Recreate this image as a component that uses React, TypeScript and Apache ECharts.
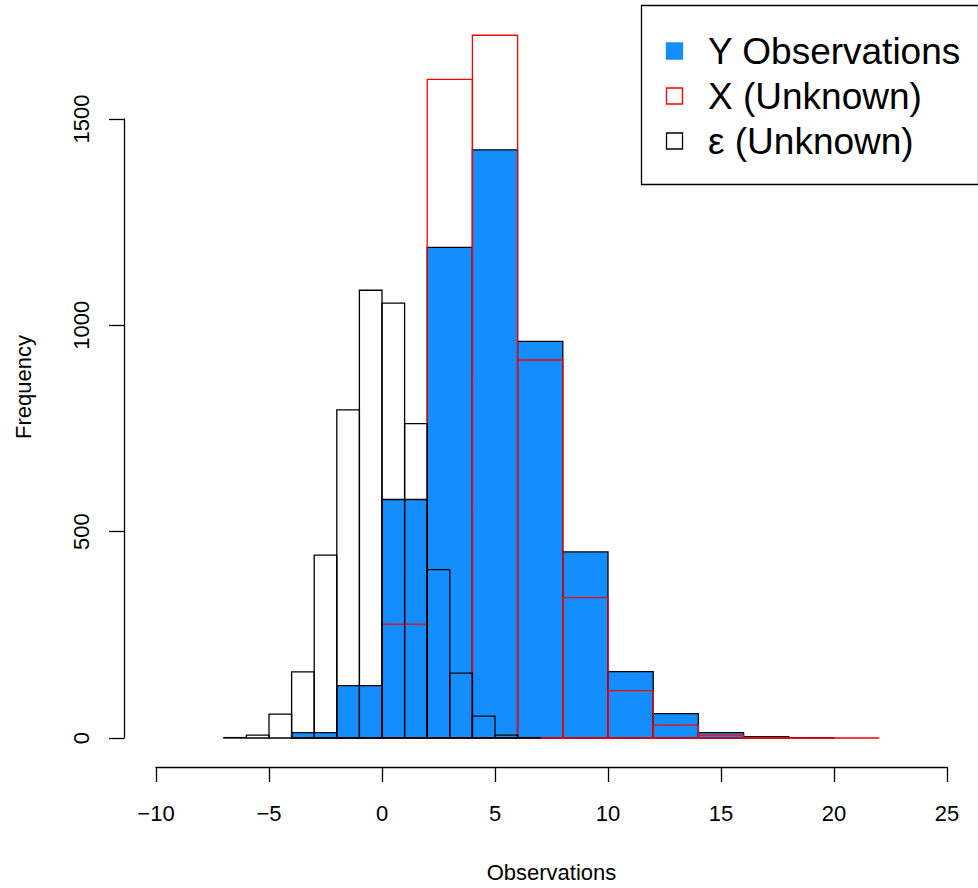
import React, { useEffect, useRef } from "react";
import * as echarts from "echarts";

// Histogram bin edges and counts
const yBreaks = [-4, -2, 0, 2, 4, 6, 8, 10, 12, 14, 16, 18, 20];
const yCounts = [13, 127, 578, 1189, 1425, 961, 451, 161, 59, 13, 3, 1];

const xBreaks = [0, 2, 4, 6, 8, 10, 12, 14, 16, 18, 20, 22];
const xCounts = [276, 1596, 1703, 916, 340, 115, 31, 7, 1, 0, 0];

const epsBreaks = [-7, -6, -5, -4, -3, -2, -1, 0, 1, 2, 3, 4, 5, 6, 7];
const epsCounts = [1, 7, 58, 160, 443, 795, 1085, 1054, 762, 408, 157, 53, 7, 1];

const xTicks = { min: -10, max: 25, interval: 5 };
const yTicks = { min: 0, max: 1500, interval: 500 };

const legendLabels = ["Y Observations", "X (Unknown)", "ε (Unknown)"];
const BLUE = "#148eff";
const RED = "#ff0000";
const FONT = "'Liberation Sans', Arial, Helvetica, sans-serif";

function toBins(breaks: number[], counts: number[]) {
  return counts.map((c, i) => [breaks[i], breaks[i + 1], c]);
}

function histSeries(name: string, breaks: number[], counts: number[], fill: string, stroke: string) {
  return {
    type: "custom",
    name,
    clip: false,
    data: toBins(breaks, counts),
    encode: { x: [0, 1], y: 2 },
    renderItem: (params: any, api: any) => {
      const p0 = api.coord([api.value(0), api.value(2)]);
      const p1 = api.coord([api.value(1), 0]);
      return {
        type: "rect",
        shape: { x: p0[0], y: p0[1], width: p1[0] - p0[0], height: p1[1] - p0[1] },
        style: { fill, stroke, lineWidth: 1.3 },
      };
    },
  };
}

export default function App() {
  const ref = useRef<HTMLDivElement>(null);
  useEffect(() => {
    if (!ref.current) return;
    const chart = echarts.init(ref.current, undefined, { renderer: "svg" });
    const minus = (v: number) => (v < 0 ? "\u2212" + Math.abs(v) : String(v));
    const legendRowY = [51, 96, 141];
    const legendSwatches = [
      { fill: BLUE, stroke: BLUE },
      { fill: "#fff", stroke: RED },
      { fill: "#fff", stroke: "#000" },
    ];
    const graphic: any[] = [
      {
        type: "text",
        x: 23,
        y: 387,
        rotation: Math.PI / 2,
        style: {
          text: "Frequency",
          fontSize: 22,
          fontFamily: FONT,
          fill: "#000",
          align: "center",
          verticalAlign: "middle",
        },
      },
      {
        type: "rect",
        shape: { x: 641.5, y: 5.5, width: 337, height: 179 },
        style: { fill: "#fff", stroke: "#000", lineWidth: 1.3 },
      },
    ];
    legendLabels.forEach((label, i) => {
      graphic.push({
        type: "rect",
        shape: { x: 666.5, y: legendRowY[i] - 8, width: 16, height: 16 },
        style: { fill: legendSwatches[i].fill, stroke: legendSwatches[i].stroke, lineWidth: 1.3 },
      });
      graphic.push({
        type: "text",
        x: 708,
        y: legendRowY[i],
        style: {
          text: label,
          fontSize: 37,
          fontFamily: FONT,
          fill: "#000",
          align: "left",
          verticalAlign: "middle",
        },
      });
    });

    const axisLineStyle = { color: "#000", width: 1.3 };
    chart.setOption({
      animation: false,
      backgroundColor: "#fff",
      grid: { left: 156, right: 31, top: 119, bottom: 146 },
      xAxis: {
        type: "value",
        ...xTicks,
        position: "bottom",
        offset: 29,
        axisLine: { show: true, onZero: false, lineStyle: axisLineStyle },
        axisTick: { show: true, length: 15, lineStyle: axisLineStyle },
        axisLabel: { fontSize: 22, color: "#000", fontFamily: FONT, margin: 35, formatter: minus },
        splitLine: { show: false },
        name: "Observations",
        nameLocation: "middle",
        nameGap: 94,
        nameTextStyle: { fontSize: 22, color: "#000", fontFamily: FONT },
      },
      yAxis: {
        type: "value",
        ...yTicks,
        position: "left",
        offset: 32,
        axisLine: { show: true, onZero: false, lineStyle: axisLineStyle },
        axisTick: { show: true, length: 15, lineStyle: axisLineStyle },
        axisLabel: {
          fontSize: 22,
          color: "#000",
          fontFamily: FONT,
          margin: 32,
          rotate: 90,
          formatter: (v: number) => String(v),
        },
        splitLine: { show: false },
      },
      series: [
        histSeries("Y Observations", yBreaks, yCounts, BLUE, "#000"),
        histSeries("X (Unknown)", xBreaks, xCounts, "none", RED),
        histSeries("ε (Unknown)", epsBreaks, epsCounts, "none", "#000"),
      ],
      graphic,
    });
    return () => chart.dispose();
  }, []);
  return (
    <div
      ref={ref}
      style={{ position: "fixed", left: 0, top: 0, width: 978, height: 888, background: "#fff" }}
    />
  );
}
